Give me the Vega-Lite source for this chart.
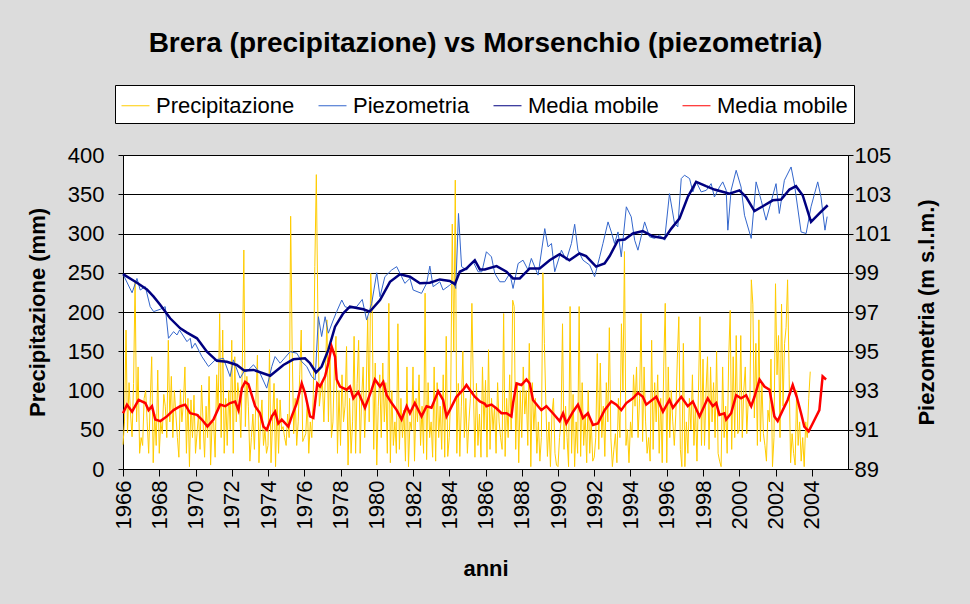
{
"$schema": "https://vega.github.io/schema/vega-lite/v6.json",
"width": 725, "height": 314,
"autosize": {"type": "none"},
"padding": {"left": 123, "top": 155, "right": 122, "bottom": 135},
"background": "#dcdcdc",
"title": {"text": "Brera (precipitazione)  vs Morsenchio (piezometria)", "font": "Liberation Sans", "fontSize": 28, "fontWeight": "bold", "color": "#000", "anchor": "middle", "offset": 27},
"datasets": {
"prec": [
{"t":1966.000,"v":31},{"t":1966.083,"v":60},{"t":1966.167,"v":177},{"t":1966.250,"v":46},{"t":1966.333,"v":110},{"t":1966.417,"v":70},{"t":1966.500,"v":41},{"t":1966.583,"v":109},{"t":1966.667,"v":240},{"t":1966.750,"v":60},{"t":1966.833,"v":130},{"t":1966.917,"v":20},
{"t":1967.000,"v":40},{"t":1967.083,"v":30},{"t":1967.167,"v":90},{"t":1967.250,"v":100},{"t":1967.333,"v":60},{"t":1967.417,"v":20},{"t":1967.500,"v":85},{"t":1967.583,"v":143},{"t":1967.667,"v":8},{"t":1967.750,"v":70},{"t":1967.833,"v":30},{"t":1967.917,"v":126},
{"t":1968.000,"v":20},{"t":1968.083,"v":60},{"t":1968.167,"v":45},{"t":1968.250,"v":95},{"t":1968.333,"v":80},{"t":1968.417,"v":40},{"t":1968.500,"v":164},{"t":1968.583,"v":60},{"t":1968.667,"v":118},{"t":1968.750,"v":40},{"t":1968.833,"v":100},{"t":1968.917,"v":70},
{"t":1969.000,"v":40},{"t":1969.083,"v":15},{"t":1969.167,"v":101},{"t":1969.250,"v":60},{"t":1969.333,"v":85},{"t":1969.417,"v":130},{"t":1969.500,"v":20},{"t":1969.583,"v":90},{"t":1969.667,"v":3},{"t":1969.750,"v":88},{"t":1969.833,"v":40},{"t":1969.917,"v":94},
{"t":1970.000,"v":20},{"t":1970.083,"v":45},{"t":1970.167,"v":70},{"t":1970.250,"v":25},{"t":1970.333,"v":107},{"t":1970.417,"v":60},{"t":1970.500,"v":15},{"t":1970.583,"v":80},{"t":1970.667,"v":40},{"t":1970.750,"v":118},{"t":1970.833,"v":5},{"t":1970.917,"v":60},
{"t":1971.000,"v":60},{"t":1971.083,"v":15},{"t":1971.167,"v":120},{"t":1971.250,"v":75},{"t":1971.333,"v":198},{"t":1971.417,"v":40},{"t":1971.500,"v":177},{"t":1971.583,"v":20},{"t":1971.667,"v":90},{"t":1971.750,"v":30},{"t":1971.833,"v":100},{"t":1971.917,"v":50},
{"t":1972.000,"v":164},{"t":1972.083,"v":20},{"t":1972.167,"v":143},{"t":1972.250,"v":60},{"t":1972.333,"v":110},{"t":1972.417,"v":90},{"t":1972.500,"v":40},{"t":1972.583,"v":130},{"t":1972.667,"v":279},{"t":1972.750,"v":54},{"t":1972.833,"v":118},{"t":1972.917,"v":80},
{"t":1973.000,"v":10},{"t":1973.083,"v":40},{"t":1973.167,"v":70},{"t":1973.250,"v":25},{"t":1973.333,"v":88},{"t":1973.417,"v":145},{"t":1973.500,"v":8},{"t":1973.583,"v":60},{"t":1973.667,"v":88},{"t":1973.750,"v":30},{"t":1973.833,"v":50},{"t":1973.917,"v":20},
{"t":1974.000,"v":30},{"t":1974.083,"v":152},{"t":1974.167,"v":8},{"t":1974.250,"v":60},{"t":1974.333,"v":109},{"t":1974.417,"v":3},{"t":1974.500,"v":90},{"t":1974.583,"v":20},{"t":1974.667,"v":88},{"t":1974.750,"v":50},{"t":1974.833,"v":54},{"t":1974.917,"v":40},
{"t":1975.000,"v":30},{"t":1975.083,"v":70},{"t":1975.167,"v":40},{"t":1975.250,"v":322},{"t":1975.333,"v":152},{"t":1975.417,"v":45},{"t":1975.500,"v":90},{"t":1975.583,"v":30},{"t":1975.667,"v":60},{"t":1975.750,"v":120},{"t":1975.833,"v":177},{"t":1975.917,"v":35},
{"t":1976.000,"v":40},{"t":1976.083,"v":45},{"t":1976.167,"v":85},{"t":1976.250,"v":20},{"t":1976.333,"v":60},{"t":1976.417,"v":40},{"t":1976.500,"v":95},{"t":1976.583,"v":258},{"t":1976.667,"v":375},{"t":1976.750,"v":198},{"t":1976.833,"v":80},{"t":1976.917,"v":100},
{"t":1977.000,"v":110},{"t":1977.083,"v":60},{"t":1977.167,"v":120},{"t":1977.250,"v":190},{"t":1977.333,"v":60},{"t":1977.417,"v":150},{"t":1977.500,"v":40},{"t":1977.583,"v":60},{"t":1977.667,"v":130},{"t":1977.750,"v":169},{"t":1977.833,"v":20},{"t":1977.917,"v":100},
{"t":1978.000,"v":30},{"t":1978.083,"v":120},{"t":1978.167,"v":60},{"t":1978.250,"v":80},{"t":1978.333,"v":156},{"t":1978.417,"v":5},{"t":1978.500,"v":90},{"t":1978.583,"v":20},{"t":1978.667,"v":60},{"t":1978.750,"v":169},{"t":1978.833,"v":20},{"t":1978.917,"v":109},
{"t":1979.000,"v":164},{"t":1979.083,"v":20},{"t":1979.167,"v":90},{"t":1979.250,"v":130},{"t":1979.333,"v":40},{"t":1979.417,"v":100},{"t":1979.500,"v":194},{"t":1979.583,"v":60},{"t":1979.667,"v":249},{"t":1979.750,"v":200},{"t":1979.833,"v":25},{"t":1979.917,"v":135},
{"t":1980.000,"v":5},{"t":1980.083,"v":80},{"t":1980.167,"v":120},{"t":1980.250,"v":40},{"t":1980.333,"v":135},{"t":1980.417,"v":60},{"t":1980.500,"v":110},{"t":1980.583,"v":20},{"t":1980.667,"v":211},{"t":1980.750,"v":8},{"t":1980.833,"v":100},{"t":1980.917,"v":30},
{"t":1981.000,"v":60},{"t":1981.083,"v":20},{"t":1981.167,"v":185},{"t":1981.250,"v":25},{"t":1981.333,"v":90},{"t":1981.417,"v":40},{"t":1981.500,"v":75},{"t":1981.583,"v":10},{"t":1981.667,"v":130},{"t":1981.750,"v":3},{"t":1981.833,"v":60},{"t":1981.917,"v":50},
{"t":1982.000,"v":130},{"t":1982.083,"v":10},{"t":1982.167,"v":90},{"t":1982.250,"v":60},{"t":1982.333,"v":120},{"t":1982.417,"v":30},{"t":1982.500,"v":80},{"t":1982.583,"v":20},{"t":1982.667,"v":224},{"t":1982.750,"v":12},{"t":1982.833,"v":110},{"t":1982.917,"v":40},
{"t":1983.000,"v":60},{"t":1983.083,"v":15},{"t":1983.167,"v":130},{"t":1983.250,"v":10},{"t":1983.333,"v":110},{"t":1983.417,"v":40},{"t":1983.500,"v":80},{"t":1983.583,"v":25},{"t":1983.667,"v":120},{"t":1983.750,"v":15},{"t":1983.833,"v":169},{"t":1983.917,"v":16},
{"t":1984.000,"v":40},{"t":1984.083,"v":100},{"t":1984.167,"v":312},{"t":1984.250,"v":150},{"t":1984.333,"v":368},{"t":1984.417,"v":20},{"t":1984.500,"v":109},{"t":1984.583,"v":16},{"t":1984.667,"v":80},{"t":1984.750,"v":150},{"t":1984.833,"v":40},{"t":1984.917,"v":90},
{"t":1985.000,"v":20},{"t":1985.083,"v":60},{"t":1985.167,"v":90},{"t":1985.250,"v":211},{"t":1985.333,"v":100},{"t":1985.417,"v":15},{"t":1985.500,"v":109},{"t":1985.583,"v":30},{"t":1985.667,"v":70},{"t":1985.750,"v":15},{"t":1985.833,"v":130},{"t":1985.917,"v":50},
{"t":1986.000,"v":113},{"t":1986.083,"v":15},{"t":1986.167,"v":152},{"t":1986.250,"v":25},{"t":1986.333,"v":90},{"t":1986.417,"v":50},{"t":1986.500,"v":80},{"t":1986.583,"v":20},{"t":1986.667,"v":110},{"t":1986.750,"v":60},{"t":1986.833,"v":40},{"t":1986.917,"v":25},
{"t":1987.000,"v":198},{"t":1987.083,"v":16},{"t":1987.167,"v":90},{"t":1987.250,"v":40},{"t":1987.333,"v":120},{"t":1987.417,"v":50},{"t":1987.500,"v":215},{"t":1987.583,"v":207},{"t":1987.667,"v":25},{"t":1987.750,"v":110},{"t":1987.833,"v":8},{"t":1987.917,"v":100},
{"t":1988.000,"v":40},{"t":1988.083,"v":130},{"t":1988.167,"v":70},{"t":1988.250,"v":100},{"t":1988.333,"v":30},{"t":1988.417,"v":160},{"t":1988.500,"v":3},{"t":1988.583,"v":110},{"t":1988.667,"v":50},{"t":1988.750,"v":90},{"t":1988.833,"v":20},{"t":1988.917,"v":60},
{"t":1989.000,"v":10},{"t":1989.083,"v":40},{"t":1989.167,"v":250},{"t":1989.250,"v":160},{"t":1989.333,"v":80},{"t":1989.417,"v":16},{"t":1989.500,"v":60},{"t":1989.583,"v":3},{"t":1989.667,"v":70},{"t":1989.750,"v":90},{"t":1989.833,"v":20},{"t":1989.917,"v":5},
{"t":1990.000,"v":3},{"t":1990.083,"v":40},{"t":1990.167,"v":60},{"t":1990.250,"v":185},{"t":1990.333,"v":25},{"t":1990.417,"v":80},{"t":1990.500,"v":40},{"t":1990.583,"v":3},{"t":1990.667,"v":207},{"t":1990.750,"v":20},{"t":1990.833,"v":95},{"t":1990.917,"v":3},
{"t":1991.000,"v":60},{"t":1991.083,"v":20},{"t":1991.167,"v":207},{"t":1991.250,"v":16},{"t":1991.333,"v":110},{"t":1991.417,"v":30},{"t":1991.500,"v":70},{"t":1991.583,"v":8},{"t":1991.667,"v":100},{"t":1991.750,"v":20},{"t":1991.833,"v":60},{"t":1991.917,"v":10},
{"t":1992.000,"v":15},{"t":1992.083,"v":40},{"t":1992.167,"v":147},{"t":1992.250,"v":25},{"t":1992.333,"v":135},{"t":1992.417,"v":40},{"t":1992.500,"v":80},{"t":1992.583,"v":16},{"t":1992.667,"v":110},{"t":1992.750,"v":60},{"t":1992.833,"v":180},{"t":1992.917,"v":40},
{"t":1993.000,"v":3},{"t":1993.083,"v":25},{"t":1993.167,"v":45},{"t":1993.250,"v":8},{"t":1993.333,"v":90},{"t":1993.417,"v":40},{"t":1993.500,"v":185},{"t":1993.583,"v":100},{"t":1993.667,"v":277},{"t":1993.750,"v":30},{"t":1993.833,"v":50},{"t":1993.917,"v":8},
{"t":1994.000,"v":60},{"t":1994.083,"v":40},{"t":1994.167,"v":120},{"t":1994.250,"v":80},{"t":1994.333,"v":130},{"t":1994.417,"v":40},{"t":1994.500,"v":90},{"t":1994.583,"v":198},{"t":1994.667,"v":35},{"t":1994.750,"v":130},{"t":1994.833,"v":60},{"t":1994.917,"v":20},
{"t":1995.000,"v":40},{"t":1995.083,"v":10},{"t":1995.167,"v":164},{"t":1995.250,"v":25},{"t":1995.333,"v":110},{"t":1995.417,"v":60},{"t":1995.500,"v":120},{"t":1995.583,"v":20},{"t":1995.667,"v":90},{"t":1995.750,"v":8},{"t":1995.833,"v":130},{"t":1995.917,"v":211},
{"t":1996.000,"v":8},{"t":1996.083,"v":130},{"t":1996.167,"v":40},{"t":1996.250,"v":100},{"t":1996.333,"v":60},{"t":1996.417,"v":30},{"t":1996.500,"v":70},{"t":1996.583,"v":140},{"t":1996.667,"v":194},{"t":1996.750,"v":25},{"t":1996.833,"v":3},{"t":1996.917,"v":160},
{"t":1997.000,"v":3},{"t":1997.083,"v":60},{"t":1997.167,"v":20},{"t":1997.250,"v":90},{"t":1997.333,"v":50},{"t":1997.417,"v":120},{"t":1997.500,"v":30},{"t":1997.583,"v":80},{"t":1997.667,"v":10},{"t":1997.750,"v":100},{"t":1997.833,"v":194},{"t":1997.917,"v":30},
{"t":1998.000,"v":140},{"t":1998.083,"v":30},{"t":1998.167,"v":100},{"t":1998.250,"v":143},{"t":1998.333,"v":25},{"t":1998.417,"v":130},{"t":1998.500,"v":60},{"t":1998.583,"v":110},{"t":1998.667,"v":40},{"t":1998.750,"v":150},{"t":1998.833,"v":20},{"t":1998.917,"v":10},
{"t":1999.000,"v":3},{"t":1999.083,"v":130},{"t":1999.167,"v":40},{"t":1999.250,"v":80},{"t":1999.333,"v":20},{"t":1999.417,"v":140},{"t":1999.500,"v":202},{"t":1999.583,"v":25},{"t":1999.667,"v":143},{"t":1999.750,"v":40},{"t":1999.833,"v":170},{"t":1999.917,"v":45},
{"t":2000.000,"v":50},{"t":2000.083,"v":170},{"t":2000.167,"v":40},{"t":2000.250,"v":100},{"t":2000.333,"v":130},{"t":2000.417,"v":45},{"t":2000.500,"v":90},{"t":2000.583,"v":80},{"t":2000.667,"v":241},{"t":2000.750,"v":210},{"t":2000.833,"v":65},{"t":2000.917,"v":160},
{"t":2001.000,"v":30},{"t":2001.083,"v":190},{"t":2001.167,"v":35},{"t":2001.250,"v":110},{"t":2001.333,"v":45},{"t":2001.417,"v":30},{"t":2001.500,"v":10},{"t":2001.583,"v":75},{"t":2001.667,"v":60},{"t":2001.750,"v":140},{"t":2001.833,"v":3},{"t":2001.917,"v":40},
{"t":2002.000,"v":236},{"t":2002.083,"v":120},{"t":2002.167,"v":170},{"t":2002.250,"v":40},{"t":2002.333,"v":210},{"t":2002.417,"v":80},{"t":2002.500,"v":160},{"t":2002.583,"v":180},{"t":2002.667,"v":241},{"t":2002.750,"v":120},{"t":2002.833,"v":8},{"t":2002.917,"v":45},
{"t":2003.000,"v":20},{"t":2003.083,"v":5},{"t":2003.167,"v":100},{"t":2003.250,"v":30},{"t":2003.333,"v":60},{"t":2003.417,"v":10},{"t":2003.500,"v":40},{"t":2003.583,"v":3},{"t":2003.667,"v":60},{"t":2003.750,"v":40},{"t":2003.833,"v":90},{"t":2003.917,"v":124}
],
"precma": [
{"t":1966.00,"v":71},{"t":1966.22,"v":82},{"t":1966.50,"v":73},{"t":1966.86,"v":88},{"t":1967.23,"v":84},{"t":1967.41,"v":75},{"t":1967.60,"v":80},{"t":1967.78,"v":63},{"t":1968.06,"v":61},{"t":1968.42,"v":67},{"t":1968.79,"v":75},{"t":1969.16,"v":80},{"t":1969.43,"v":82},{"t":1969.71,"v":71},{"t":1970.08,"v":69},{"t":1970.35,"v":63},{"t":1970.66,"v":54},{"t":1970.99,"v":63},{"t":1971.36,"v":82},{"t":1971.64,"v":80},{"t":1971.91,"v":84},{"t":1972.19,"v":86},{"t":1972.37,"v":75},{"t":1972.56,"v":103},{"t":1972.74,"v":111},{"t":1972.92,"v":108},{"t":1973.29,"v":80},{"t":1973.56,"v":71},{"t":1973.75,"v":54},{"t":1973.93,"v":50},{"t":1974.21,"v":67},{"t":1974.39,"v":73},{"t":1974.57,"v":58},{"t":1974.76,"v":63},{"t":1975.12,"v":54},{"t":1975.31,"v":67},{"t":1975.59,"v":84},{"t":1975.86,"v":109},{"t":1976.04,"v":97},{"t":1976.32,"v":67},{"t":1976.50,"v":65},{"t":1976.72,"v":109},{"t":1976.87,"v":105},{"t":1977.15,"v":118},{"t":1977.33,"v":135},{"t":1977.51,"v":156},{"t":1977.70,"v":143},{"t":1977.79,"v":114},{"t":1977.97,"v":105},{"t":1978.34,"v":101},{"t":1978.52,"v":105},{"t":1978.71,"v":90},{"t":1978.98,"v":98},{"t":1979.35,"v":78},{"t":1979.72,"v":101},{"t":1979.90,"v":114},{"t":1980.18,"v":105},{"t":1980.36,"v":111},{"t":1980.55,"v":94},{"t":1980.82,"v":84},{"t":1981.10,"v":75},{"t":1981.37,"v":63},{"t":1981.65,"v":80},{"t":1981.83,"v":71},{"t":1982.10,"v":84},{"t":1982.47,"v":67},{"t":1982.75,"v":80},{"t":1983.02,"v":78},{"t":1983.39,"v":99},{"t":1983.66,"v":88},{"t":1983.85,"v":67},{"t":1984.03,"v":75},{"t":1984.40,"v":92},{"t":1984.77,"v":101},{"t":1984.95,"v":107},{"t":1985.13,"v":101},{"t":1985.41,"v":92},{"t":1985.69,"v":86},{"t":1985.96,"v":83},{"t":1986.05,"v":80},{"t":1986.33,"v":82},{"t":1986.61,"v":77},{"t":1986.88,"v":71},{"t":1987.16,"v":71},{"t":1987.43,"v":67},{"t":1987.52,"v":84},{"t":1987.71,"v":109},{"t":1987.98,"v":107},{"t":1988.26,"v":114},{"t":1988.44,"v":109},{"t":1988.62,"v":88},{"t":1988.90,"v":80},{"t":1989.08,"v":75},{"t":1989.36,"v":80},{"t":1989.72,"v":71},{"t":1990.09,"v":61},{"t":1990.28,"v":71},{"t":1990.46,"v":58},{"t":1990.83,"v":73},{"t":1991.10,"v":82},{"t":1991.38,"v":65},{"t":1991.65,"v":71},{"t":1991.93,"v":56},{"t":1992.20,"v":58},{"t":1992.57,"v":75},{"t":1992.94,"v":86},{"t":1993.22,"v":82},{"t":1993.49,"v":75},{"t":1993.77,"v":84},{"t":1994.13,"v":90},{"t":1994.41,"v":97},{"t":1994.68,"v":92},{"t":1994.87,"v":82},{"t":1995.42,"v":92},{"t":1995.79,"v":73},{"t":1996.15,"v":88},{"t":1996.34,"v":78},{"t":1996.80,"v":92},{"t":1997.16,"v":80},{"t":1997.44,"v":86},{"t":1997.81,"v":67},{"t":1998.26,"v":90},{"t":1998.54,"v":80},{"t":1998.73,"v":84},{"t":1998.91,"v":69},{"t":1999.18,"v":71},{"t":1999.28,"v":63},{"t":1999.55,"v":71},{"t":1999.83,"v":94},{"t":2000.10,"v":90},{"t":2000.38,"v":94},{"t":2000.66,"v":80},{"t":2000.84,"v":92},{"t":2001.12,"v":114},{"t":2001.39,"v":105},{"t":2001.67,"v":101},{"t":2001.94,"v":67},{"t":2002.12,"v":61},{"t":2002.40,"v":75},{"t":2002.67,"v":88},{"t":2002.95,"v":107},{"t":2003.17,"v":92},{"t":2003.41,"v":71},{"t":2003.59,"v":54},{"t":2003.83,"v":48},{"t":2004.05,"v":58},{"t":2004.42,"v":75},{"t":2004.60,"v":118},{"t":2004.79,"v":114}
],
"piezo": [
{"t":1966.00,"v":98.93},{"t":1966.50,"v":97.98},{"t":1966.77,"v":98.71},{"t":1966.95,"v":98.12},{"t":1967.23,"v":98.29},{"t":1967.50,"v":97.27},{"t":1967.69,"v":97.02},{"t":1968.06,"v":97.14},{"t":1968.33,"v":97.27},{"t":1968.51,"v":95.66},{"t":1968.79,"v":96.0},{"t":1968.98,"v":95.83},{"t":1969.12,"v":96.08},{"t":1969.53,"v":95.49},{"t":1969.71,"v":95.66},{"t":1969.80,"v":95.15},{"t":1969.98,"v":95.41},{"t":1970.35,"v":94.73},{"t":1970.72,"v":94.22},{"t":1971.09,"v":94.56},{"t":1971.54,"v":94.64},{"t":1971.91,"v":93.71},{"t":1972.09,"v":94.56},{"t":1972.46,"v":93.63},{"t":1972.68,"v":93.97},{"t":1972.83,"v":93.97},{"t":1973.20,"v":94.31},{"t":1973.56,"v":93.88},{"t":1973.93,"v":93.12},{"t":1974.21,"v":94.22},{"t":1974.39,"v":94.73},{"t":1974.67,"v":94.39},{"t":1975.22,"v":94.98},{"t":1975.59,"v":94.90},{"t":1975.86,"v":94.47},{"t":1976.14,"v":94.22},{"t":1976.41,"v":93.71},{"t":1976.60,"v":93.54},{"t":1976.78,"v":96.76},{"t":1976.96,"v":95.75},{"t":1977.15,"v":96.76},{"t":1977.33,"v":95.92},{"t":1977.60,"v":96.59},{"t":1977.79,"v":97.02},{"t":1978.07,"v":97.61},{"t":1978.25,"v":97.27},{"t":1978.52,"v":97.19},{"t":1978.89,"v":97.27},{"t":1979.20,"v":97.64},{"t":1979.44,"v":96.59},{"t":1979.72,"v":97.44},{"t":1980.00,"v":99.0},{"t":1980.18,"v":97.78},{"t":1980.45,"v":98.80},{"t":1980.82,"v":99.14},{"t":1981.10,"v":99.31},{"t":1981.37,"v":98.80},{"t":1981.55,"v":98.46},{"t":1981.83,"v":98.71},{"t":1982.01,"v":98.12},{"t":1982.47,"v":97.95},{"t":1982.75,"v":98.46},{"t":1982.93,"v":99.34},{"t":1983.11,"v":98.29},{"t":1983.48,"v":98.54},{"t":1983.66,"v":98.12},{"t":1984.03,"v":98.37},{"t":1984.22,"v":98.54},{"t":1984.36,"v":98.20},{"t":1984.51,"v":102.02},{"t":1984.68,"v":99.31},{"t":1984.95,"v":99.14},{"t":1985.32,"v":99.56},{"t":1985.59,"v":99.05},{"t":1985.80,"v":99.05},{"t":1986.05,"v":100.07},{"t":1986.33,"v":99.81},{"t":1986.51,"v":98.97},{"t":1986.79,"v":98.54},{"t":1987.06,"v":98.54},{"t":1987.34,"v":98.97},{"t":1987.52,"v":98.20},{"t":1987.80,"v":99.47},{"t":1988.07,"v":99.64},{"t":1988.35,"v":99.14},{"t":1988.53,"v":99.73},{"t":1988.90,"v":98.88},{"t":1989.27,"v":101.25},{"t":1989.45,"v":100.32},{"t":1989.64,"v":100.49},{"t":1989.82,"v":99.05},{"t":1990.19,"v":100.15},{"t":1990.46,"v":99.64},{"t":1990.74,"v":100.49},{"t":1990.92,"v":101.47},{"t":1991.10,"v":100.15},{"t":1991.38,"v":99.64},{"t":1991.75,"v":99.39},{"t":1992.02,"v":98.80},{"t":1992.30,"v":99.81},{"t":1992.48,"v":100.49},{"t":1992.76,"v":101.59},{"t":1992.94,"v":101.08},{"t":1993.12,"v":100.49},{"t":1993.31,"v":101.08},{"t":1993.49,"v":99.81},{"t":1993.77,"v":102.36},{"t":1994.04,"v":101.85},{"t":1994.23,"v":100.66},{"t":1994.41,"v":100.15},{"t":1994.78,"v":101.59},{"t":1995.05,"v":100.83},{"t":1995.33,"v":100.75},{"t":1995.60,"v":100.92},{"t":1995.88,"v":100.66},{"t":1996.15,"v":103.03},{"t":1996.43,"v":101.51},{"t":1996.61,"v":101.34},{"t":1996.80,"v":103.80},{"t":1996.98,"v":103.97},{"t":1997.26,"v":103.80},{"t":1997.44,"v":103.12},{"t":1997.63,"v":103.63},{"t":1997.90,"v":103.12},{"t":1998.18,"v":103.20},{"t":1998.45,"v":103.54},{"t":1998.63,"v":102.86},{"t":1998.91,"v":103.37},{"t":1999.09,"v":103.63},{"t":1999.28,"v":103.20},{"t":1999.37,"v":101.17},{"t":1999.55,"v":103.20},{"t":1999.83,"v":104.22},{"t":2000.10,"v":103.37},{"t":2000.29,"v":101.93},{"t":2000.66,"v":100.75},{"t":2000.93,"v":103.63},{"t":2001.21,"v":102.69},{"t":2001.48,"v":101.68},{"t":2002.03,"v":103.54},{"t":2002.21,"v":102.02},{"t":2002.49,"v":103.71},{"t":2002.86,"v":104.39},{"t":2003.04,"v":103.54},{"t":2003.41,"v":101.08},{"t":2003.69,"v":101.0},{"t":2003.96,"v":102.36},{"t":2004.33,"v":103.63},{"t":2004.51,"v":102.86},{"t":2004.73,"v":101.17},{"t":2004.85,"v":101.86}
],
"piezoma": [
{"t":1966.00,"v":98.93},{"t":1966.77,"v":98.49},{"t":1967.32,"v":98.15},{"t":1967.69,"v":97.78},{"t":1968.06,"v":97.36},{"t":1968.60,"v":96.68},{"t":1969.16,"v":96.17},{"t":1969.53,"v":95.95},{"t":1970.08,"v":95.66},{"t":1970.63,"v":94.98},{"t":1971.18,"v":94.51},{"t":1971.73,"v":94.46},{"t":1972.28,"v":94.30},{"t":1972.68,"v":94.02},{"t":1973.20,"v":94.05},{"t":1974.12,"v":93.75},{"t":1974.85,"v":94.30},{"t":1975.40,"v":94.59},{"t":1976.04,"v":94.64},{"t":1976.32,"v":94.39},{"t":1976.65,"v":93.92},{"t":1976.96,"v":94.22},{"t":1977.33,"v":95.07},{"t":1977.70,"v":96.25},{"t":1978.15,"v":96.93},{"t":1978.52,"v":97.27},{"t":1979.26,"v":97.14},{"t":1979.62,"v":97.02},{"t":1980.18,"v":97.61},{"t":1980.73,"v":98.54},{"t":1981.28,"v":98.92},{"t":1981.83,"v":98.80},{"t":1982.38,"v":98.46},{"t":1982.93,"v":98.49},{"t":1983.48,"v":98.66},{"t":1984.03,"v":98.58},{"t":1984.31,"v":98.42},{"t":1984.58,"v":99.05},{"t":1984.95,"v":99.22},{"t":1985.41,"v":99.64},{"t":1985.69,"v":99.17},{"t":1985.96,"v":99.17},{"t":1986.61,"v":99.34},{"t":1987.16,"v":99.05},{"t":1987.52,"v":98.71},{"t":1987.89,"v":98.71},{"t":1988.44,"v":99.22},{"t":1988.99,"v":99.22},{"t":1989.54,"v":99.64},{"t":1990.09,"v":99.95},{"t":1990.63,"v":99.64},{"t":1991.18,"v":99.98},{"t":1991.55,"v":99.85},{"t":1992.10,"v":99.31},{"t":1992.57,"v":99.47},{"t":1992.85,"v":99.85},{"t":1993.31,"v":100.66},{"t":1993.68,"v":100.69},{"t":1994.13,"v":101.00},{"t":1994.68,"v":101.12},{"t":1995.23,"v":100.86},{"t":1995.88,"v":100.75},{"t":1996.25,"v":101.25},{"t":1996.70,"v":101.76},{"t":1997.16,"v":102.86},{"t":1997.62,"v":103.63},{"t":1998.17,"v":103.41},{"t":1998.63,"v":103.24},{"t":1999.18,"v":103.10},{"t":1999.46,"v":103.03},{"t":2000.01,"v":103.20},{"t":2000.38,"v":102.86},{"t":2000.84,"v":102.14},{"t":2001.30,"v":102.39},{"t":2001.85,"v":102.69},{"t":2002.31,"v":102.73},{"t":2002.77,"v":103.24},{"t":2003.13,"v":103.41},{"t":2003.50,"v":102.95},{"t":2003.96,"v":101.59},{"t":2004.42,"v":102.02},{"t":2004.88,"v":102.44}
]
},
"layer": [
{
"data": {"name": "prec"},
"mark": {"type": "line", "strokeWidth": 1},
"encoding": {
"x": {"field": "t", "type": "quantitative", "scale": {"domain": [1966, 2006], "nice": false, "zero": false},
"axis": {"values": [1966,1968,1970,1972,1974,1976,1978,1980,1982,1984,1986,1988,1990,1992,1994,1996,1998,2000,2002,2004], "format": "d", "labelAngle": -90, "labelOverlap": false, "labelBound": false, "labelFlush": false, "labelSeparation": 0, "title": "anni", "tickSize": 7, "labelPadding": 4, "titlePadding": 30, "grid": false}},
"y": {"field": "v", "type": "quantitative", "scale": {"domain": [0, 400], "nice": false, "zero": false},
"axis": {"orient": "left", "values": [0,50,100,150,200,250,300,350,400], "title": "Precipitazione (mm)", "grid": true, "gridColor": "#000", "gridWidth": 1, "gridOpacity": 1, "tickSize": 5, "labelPadding": 14, "titlePadding": 18}},
"color": {"datum": "Precipitazione", "type": "nominal",
"scale": {"domain": ["Precipitazione","Piezometria","MMpiezo","MMprec"], "range": ["#FFCC00","#3366CC","#000080","#FF0000"]},
"legend": {"orient": "none", "legendX": -8, "legendY": -70, "direction": "horizontal", "columns": 4, "title": null, "strokeColor": "#000", "fillColor": "#fff", "padding": 6, "symbolType": "stroke", "symbolSize": 784, "labelFontSize": 22, "labelFont": "Liberation Sans", "labelColor": "#000", "columnPadding": 21, "labelOffset": 6, "labelLimit": 300,
"labelExpr": "indexof(datum.label, 'MM') == 0 ? 'Media mobile' : datum.label"}},
"strokeWidth": {"datum": "Precipitazione", "type": "nominal", "scale": {"domain": ["Precipitazione","Piezometria","MMpiezo","MMprec"], "range": [1, 1, 2.5, 2.5]}}
}
},
{
"data": {"name": "piezo"},
"mark": {"type": "line", "strokeWidth": 1},
"encoding": {
"x": {"field": "t", "type": "quantitative",
"axis": {"values": [1966,1968,1970,1972,1974,1976,1978,1980,1982,1984,1986,1988,1990,1992,1994,1996,1998,2000,2002,2004], "format": "d", "labelAngle": -90, "labelOverlap": false, "labelBound": false, "labelFlush": false, "labelSeparation": 0, "title": "anni", "tickSize": 7, "labelPadding": 4, "titlePadding": 30, "grid": false}},
"y": {"field": "v", "type": "quantitative", "scale": {"domain": [89, 105], "nice": false, "zero": false},
"axis": {"orient": "right", "values": [89,91,93,95,97,99,101,103,105], "title": "Piezometria (m s.l.m.)", "titleAngle": 270, "grid": false, "tickSize": 5, "labelPadding": 1, "titlePadding": 48}},
"color": {"datum": "Piezometria", "type": "nominal"},
"strokeWidth": {"datum": "Piezometria", "type": "nominal"}
}
},
{
"data": {"name": "piezoma"},
"mark": {"type": "line", "strokeWidth": 2.5},
"encoding": {
"x": {"field": "t", "type": "quantitative",
"axis": {"values": [1966,1968,1970,1972,1974,1976,1978,1980,1982,1984,1986,1988,1990,1992,1994,1996,1998,2000,2002,2004], "format": "d", "labelAngle": -90, "labelOverlap": false, "labelBound": false, "labelFlush": false, "labelSeparation": 0, "title": "anni", "tickSize": 7, "labelPadding": 4, "titlePadding": 30, "grid": false}},
"y": {"field": "v", "type": "quantitative", "scale": {"domain": [89, 105], "nice": false, "zero": false}, "axis": null},
"color": {"datum": "MMpiezo", "type": "nominal"},
"strokeWidth": {"datum": "MMpiezo", "type": "nominal"}
}
},
{
"data": {"name": "precma"},
"mark": {"type": "line", "strokeWidth": 2.5},
"encoding": {
"x": {"field": "t", "type": "quantitative",
"axis": {"values": [1966,1968,1970,1972,1974,1976,1978,1980,1982,1984,1986,1988,1990,1992,1994,1996,1998,2000,2002,2004], "format": "d", "labelAngle": -90, "labelOverlap": false, "labelBound": false, "labelFlush": false, "labelSeparation": 0, "title": "anni", "tickSize": 7, "labelPadding": 4, "titlePadding": 30, "grid": false}},
"y": {"field": "v", "type": "quantitative", "scale": {"domain": [0, 400], "nice": false, "zero": false}, "axis": null},
"color": {"datum": "MMprec", "type": "nominal"},
"strokeWidth": {"datum": "MMprec", "type": "nominal"}
}
}
],
"resolve": {"scale": {"y": "independent"}},
"config": {
"view": {"fill": "#ffffff", "stroke": "#808080", "strokeWidth": 1},
"axis": {"labelFont": "Liberation Sans", "labelFontSize": 22, "labelColor": "#000", "titleFont": "Liberation Sans", "titleFontSize": 22, "titleFontWeight": "bold", "titleColor": "#000", "domainColor": "#000", "tickColor": "#000", "domainWidth": 1, "tickWidth": 1, "labelOverlap": false}
}
}
